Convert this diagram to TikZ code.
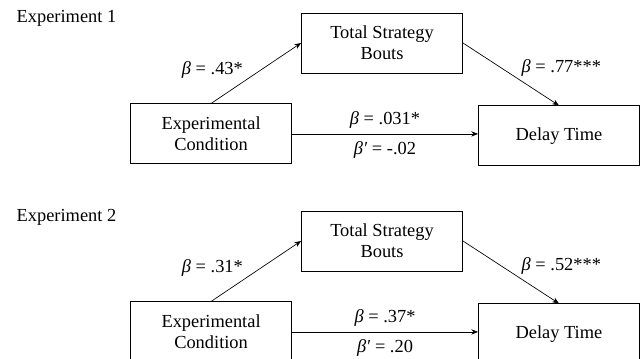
\documentclass[tikz,border=0pt]{standalone}
\usepackage{fontspec}
\setmainfont{Liberation Serif}
\usetikzlibrary{positioning,arrows.meta}

\begin{document}
\begin{tikzpicture}[x=0.75pt,y=-0.75pt,
    box/.style={draw,line width=0.7pt,minimum width=120.75pt,minimum height=45pt,
      align=center,inner sep=0pt,font=\fontsize{13.8}{15.75}\selectfont},
    w/.style={font=\fontsize{13.8}{16}\selectfont,inner sep=1pt},
    -{Stealth[length=5pt,width=4pt]},line width=0.5pt]
  \useasboundingbox (0,0) rectangle (640,359);
  % Experiment 1
  \node[w,anchor=west] (e1) at (15,18) {Experiment 1};
  \node[box] (t1) at (382,43) {Total Strategy\\Bouts};
  \node[box] (c1) [below left=22.5pt and 6.75pt of t1] {Experimental\\Condition};
  \node[box] (d1) [below right=24pt and 11.25pt of t1] {Delay Time};
  \draw (c1.north) -- (t1.west) node[w,pos=0.55,left=12pt] {\textit{β} = .43*};
  \draw (t1.east) -- (d1.north) node[w,pos=0.4,right=14pt] {\textit{β} = .77***};
  \draw (c1.east) -- (c1.east -| d1.west)
    node[w,midway,above=3pt] {\textit{β} = .031*}
    node[w,midway,below=4.5pt] {\textit{β′} = -.02};
  % Experiment 2
  \node[w,anchor=west] (e2) at (15,217) {Experiment 2};
  \node[box] (t2) at (382,241) {Total Strategy\\Bouts};
  \node[box] (c2) [below left=22.5pt and 6.75pt of t2] {Experimental\\Condition};
  \node[box] (d2) [below right=24pt and 11.25pt of t2] {Delay Time};
  \draw (c2.north) -- (t2.west) node[w,pos=0.55,left=12pt] {\textit{β} = .31*};
  \draw (t2.east) -- (d2.north) node[w,pos=0.4,right=14pt] {\textit{β} = .52***};
  \draw (c2.east) -- (c2.east -| d2.west)
    node[w,midway,above=3pt] {\textit{β} = .37*}
    node[w,midway,below=4.5pt] {\textit{β′} = .20};
\end{tikzpicture}
\end{document}
